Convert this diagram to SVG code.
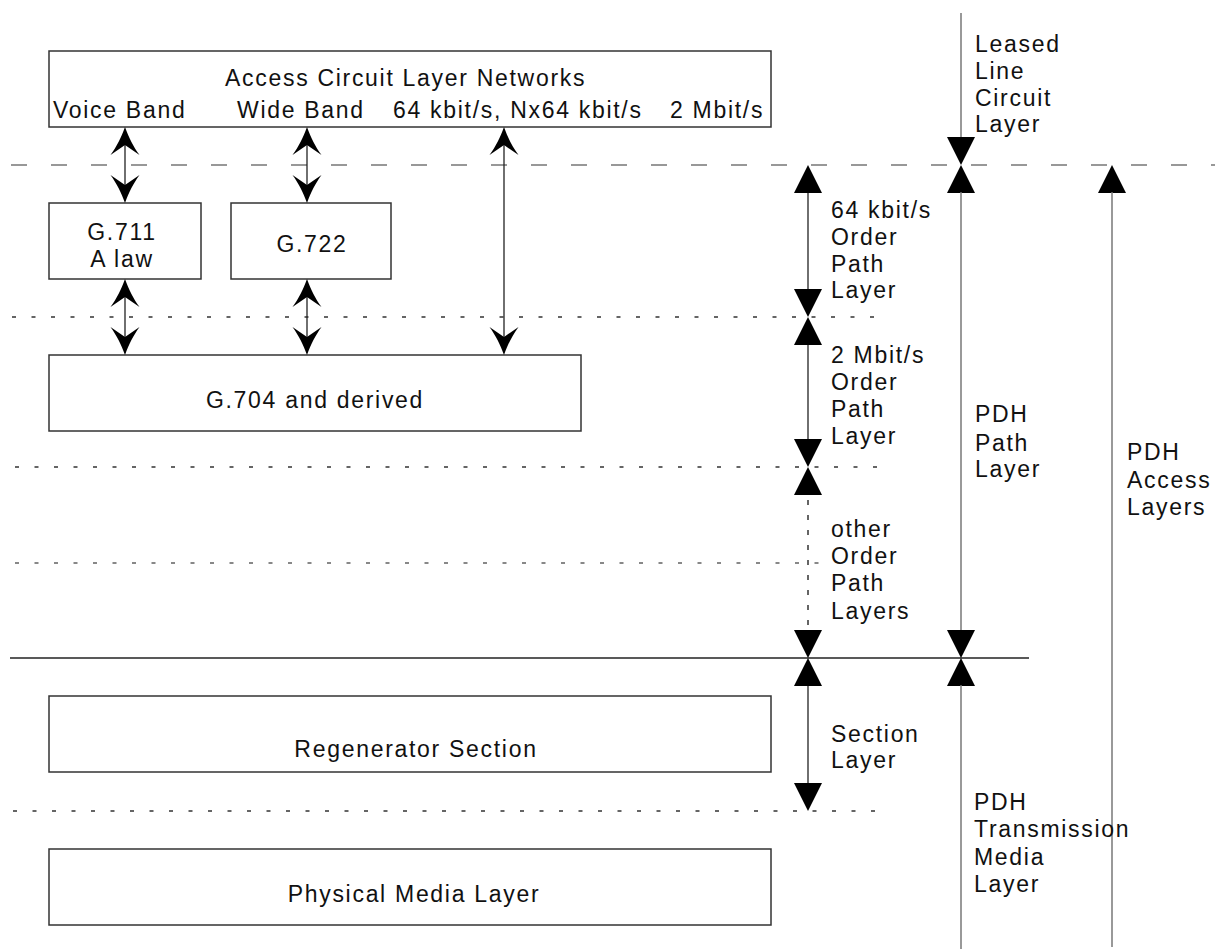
<svg xmlns="http://www.w3.org/2000/svg" xmlns:xlink="http://www.w3.org/1999/xlink" width="1215" height="949" viewBox="0 0 1215 949">
<style>
  text { font-family: "Liberation Sans", Arial, sans-serif; font-size: 23px; letter-spacing: 1.7px; fill: #111; }
  .box { fill: #fff; stroke: #333; stroke-width: 1.5; }
  .mid { text-anchor: middle; }
  .dash { fill: none; stroke: #777; stroke-width: 1.5; stroke-dasharray: 16 24; }
  .dot { fill: none; stroke: #333; stroke-width: 1.5; stroke-dasharray: 4 15.5; }
  .dotg { fill: none; stroke: #888; stroke-width: 2; stroke-dasharray: 4 15.5; }
  .solid { fill: none; stroke: #222; stroke-width: 1.5; }
  .gray { fill: none; stroke: #777; stroke-width: 1.5; }
  .shaft { fill: none; stroke: #222; stroke-width: 1.3; }
  .vdot { fill: none; stroke: #333; stroke-width: 1.5; stroke-dasharray: 5 10; }
  .head { fill: #000; }
</style>
<defs>
  <path id="tri" d="M0,0 L14,28 L-14,28 Z"/>
  <path id="barb" d="M0,0 C4,11 8,19 14.5,28 L0,18 L-14.5,28 C-8,19 -4,11 0,0 Z"/>
</defs>

<g id="layer-lines">
  <line class="dash" x1="11" y1="165" x2="1215" y2="165"/>
  <line class="dot" x1="12" y1="317" x2="875" y2="317"/>
  <line class="dot" x1="15" y1="467" x2="880" y2="467"/>
  <line class="dotg" x1="15" y1="563" x2="825" y2="563"/>
  <line class="solid" x1="10" y1="658" x2="1029" y2="658"/>
  <line class="dot" x1="13" y1="811" x2="876" y2="811"/>
</g>

<g id="node-access-circuit">
  <rect class="box" x="49" y="51" width="722" height="76"/>
  <text x="225" y="86">Access Circuit Layer Networks</text>
  <text x="53" y="118">Voice Band</text>
  <text x="237" y="118">Wide Band</text>
  <text x="393" y="118">64 kbit/s, Nx64 kbit/s</text>
  <text x="670" y="118">2 Mbit/s</text>
</g>

<g id="node-g711">
  <rect class="box" x="49" y="203" width="152" height="76"/>
  <text class="mid" x="122" y="240">G.711</text>
  <text class="mid" x="122" y="267">A law</text>
</g>

<g id="node-g722">
  <rect class="box" x="231" y="203" width="160" height="76"/>
  <text class="mid" x="312" y="252">G.722</text>
</g>

<g id="node-g704">
  <rect class="box" x="49" y="355" width="532" height="76"/>
  <text class="mid" x="315" y="408">G.704 and derived</text>
</g>

<g id="node-regenerator">
  <rect class="box" x="49" y="696" width="722" height="76"/>
  <text class="mid" x="416" y="757">Regenerator Section</text>
</g>

<g id="node-physical">
  <rect class="box" x="49" y="849" width="722" height="76"/>
  <text class="mid" x="414" y="902">Physical Media Layer</text>
</g>

<g id="connectors">
  <line class="shaft" x1="125" y1="140" x2="125" y2="190"/>
  <use href="#barb" class="head" transform="translate(125,127)"/>
  <use href="#barb" class="head" transform="translate(125,203) rotate(180)"/>
  <line class="shaft" x1="125" y1="292" x2="125" y2="342"/>
  <use href="#barb" class="head" transform="translate(125,279)"/>
  <use href="#barb" class="head" transform="translate(125,355) rotate(180)"/>

  <line class="shaft" x1="307" y1="140" x2="307" y2="190"/>
  <use href="#barb" class="head" transform="translate(307,127)"/>
  <use href="#barb" class="head" transform="translate(307,203) rotate(180)"/>
  <line class="shaft" x1="307" y1="292" x2="307" y2="342"/>
  <use href="#barb" class="head" transform="translate(307,279)"/>
  <use href="#barb" class="head" transform="translate(307,355) rotate(180)"/>

  <line class="shaft" x1="504" y1="140" x2="504" y2="342"/>
  <use href="#barb" class="head" transform="translate(504,127)"/>
  <use href="#barb" class="head" transform="translate(504,355) rotate(180)"/>

  <line class="shaft" x1="808" y1="193" x2="808" y2="289"/>
  <use href="#tri" class="head" transform="translate(808,165)"/>
  <use href="#tri" class="head" transform="translate(808,317) rotate(180)"/>

  <line class="shaft" x1="808" y1="345" x2="808" y2="440"/>
  <use href="#tri" class="head" transform="translate(808,317)"/>
  <use href="#tri" class="head" transform="translate(808,467) rotate(180)"/>

  <line class="vdot" x1="808" y1="500" x2="808" y2="630"/>
  <use href="#tri" class="head" transform="translate(808,467)"/>
  <use href="#tri" class="head" transform="translate(808,658) rotate(180)"/>

  <line class="shaft" x1="808" y1="686" x2="808" y2="783"/>
  <use href="#tri" class="head" transform="translate(808,658)"/>
  <use href="#tri" class="head" transform="translate(808,811) rotate(180)"/>

  <line class="gray" x1="961" y1="13" x2="961" y2="138"/>
  <use href="#tri" class="head" transform="translate(961,165) rotate(180)"/>
  <use href="#tri" class="head" transform="translate(961,165)"/>
  <line class="gray" x1="961" y1="192" x2="961" y2="631"/>
  <use href="#tri" class="head" transform="translate(961,658) rotate(180)"/>
  <use href="#tri" class="head" transform="translate(961,658)"/>
  <line class="gray" x1="961" y1="685" x2="961" y2="949"/>

  <use href="#tri" class="head" transform="translate(1112,165)"/>
  <line class="gray" x1="1112" y1="192" x2="1112" y2="947"/>
</g>

<g id="label-leased">
  <text x="975" y="52">Leased</text>
  <text x="975" y="79">Line</text>
  <text x="975" y="106">Circuit</text>
  <text x="975" y="132">Layer</text>
</g>
<g id="label-64k">
  <text x="831" y="218">64 kbit/s</text>
  <text x="831" y="245">Order</text>
  <text x="831" y="272">Path</text>
  <text x="831" y="298">Layer</text>
</g>
<g id="label-2m">
  <text x="831" y="363">2 Mbit/s</text>
  <text x="831" y="390">Order</text>
  <text x="831" y="417">Path</text>
  <text x="831" y="444">Layer</text>
</g>
<g id="label-other">
  <text x="831" y="537">other</text>
  <text x="831" y="564">Order</text>
  <text x="831" y="591">Path</text>
  <text x="831" y="619">Layers</text>
</g>
<g id="label-section">
  <text x="831" y="742">Section</text>
  <text x="831" y="768">Layer</text>
</g>
<g id="label-pdh-path">
  <text x="975" y="422">PDH</text>
  <text x="975" y="451">Path</text>
  <text x="975" y="477">Layer</text>
</g>
<g id="label-pdh-access">
  <text x="1127" y="460">PDH</text>
  <text x="1127" y="488">Access</text>
  <text x="1127" y="515">Layers</text>
</g>
<g id="label-pdh-transmission">
  <text x="974" y="810">PDH</text>
  <text x="974" y="837">Transmission</text>
  <text x="974" y="865">Media</text>
  <text x="974" y="892">Layer</text>
</g>
</svg>
